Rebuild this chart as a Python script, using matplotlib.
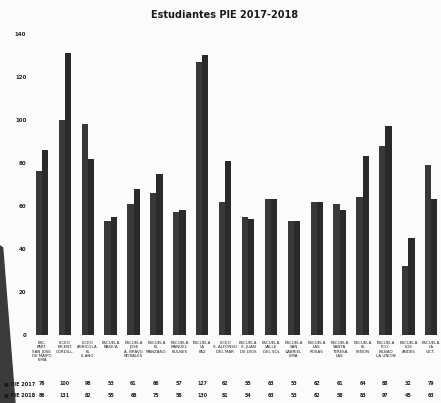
import matplotlib
matplotlib.use("Agg")
import matplotlib.pyplot as plt
import numpy as np
from matplotlib.patches import Polygon

# datos
escuelas = ["ESC.\nPART.\nSAN JOSE\nDE MAIPO\nLIMA", "LICEO\nBICENT.\nCORDILL.",
            "LICEO\nAGRICOLA\nEL\nLLANO", "ESCUELA\nBASICA", "ESCUELA\nJOSE\nA. BRAVO\nMORALES",
            "ESCUELA\nEL\nMANZANO", "ESCUELA\nMANUEL\nBULNES", "ESCUELA\nLA\nPAZ",
            "LICEO\nS. ALFONSO\nDEL MAR", "ESCUELA\nS. JUAN\nDE DIOS", "ESCUELA\nVALLE\nDEL SOL",
            "ESCUELA\nSAN\nGABRIEL\nLIMA", "ESCUELA\nLAS\nROSAS", "ESCUELA\nSANTA\nTERESA\nLAS",
            "ESCUELA\nEL\nPEÑON", "ESCUELA\nFCO.\nBILBAO\nLA UNION", "ESCUELA\nLOS\nANDES",
            "ESCUELA\nLA\nVICT."]
pie_2017 = [76, 100, 98, 53, 61, 66, 57, 127, 62, 55, 63, 53, 62, 61, 64, 88, 32, 79]
pie_2018 = [86, 131, 82, 55, 68, 75, 58, 130, 81, 54, 63, 53, 62, 58, 83, 97, 45, 63]
series = ["PIE 2017", "PIE 2018"]
yticks = [0, 20, 40, 60, 80, 100, 120, 140]

fig = plt.figure(figsize=(4.41, 4.03), dpi=100)
fig.patch.set_facecolor("#fbfbfb")
ax = fig.add_axes([0.069, 0.169, 0.935, 0.747])
ax.set_facecolor("#fbfbfb")

x = np.arange(len(escuelas))
w = 0.27
ax.bar(x - w / 2, pie_2017, w, color="#383838", linewidth=0)
ax.bar(x + w / 2, pie_2018, w, color="#2a2a2a", linewidth=0)

ax.set_xlim(-0.5, len(escuelas) - 0.5)
ax.set_ylim(0, 140)
ax.set_yticks(yticks)
ax.set_yticklabels([str(v) for v in yticks], fontsize=4, color="#222222", fontweight="bold")
ax.tick_params(axis="y", length=0, pad=3)
ax.set_xticks([])
for s in ax.spines.values():
    s.set_visible(False)

fig.text(0.51, 0.962, "Estudiantes PIE 2017-2018", ha="center", va="center",
         fontsize=7, color="#1a1a1a", fontweight="bold", family="Liberation Sans Narrow")

# etiquetas de categorias y tabla de datos
tr = ax.get_xaxis_transform()
for i, nombre in enumerate(escuelas):
    ax.text(i, -0.02, nombre, transform=tr, ha="center", va="top", fontsize=2.9,
            color="#222222", linespacing=1.1, clip_on=False)
    ax.text(i, -0.163, str(pie_2017[i]), transform=tr, ha="center", va="center",
            fontsize=3.4, color="#222222", fontweight="bold", clip_on=False)
    ax.text(i, -0.2, str(pie_2018[i]), transform=tr, ha="center", va="center",
            fontsize=3.4, color="#222222", fontweight="bold", clip_on=False)

fig.text(0.01, 0.048, "■ " + series[0], fontsize=3.6, va="center", color="#1a1a1a",
         fontweight="bold")
fig.text(0.01, 0.020, "■ " + series[1], fontsize=3.6, va="center", color="#1a1a1a",
         fontweight="bold")

# sombra del escaneo (esquina inferior izquierda)
sombra = Polygon([(0, 0.39), (0.006, 0.385), (0.034, 0.0), (0, 0.0)], closed=True,
                 transform=fig.transFigure, color="#3a3a3a", zorder=0)
fig.patches.append(sombra)

fig.savefig("out.png", dpi=100, facecolor=fig.get_facecolor())
